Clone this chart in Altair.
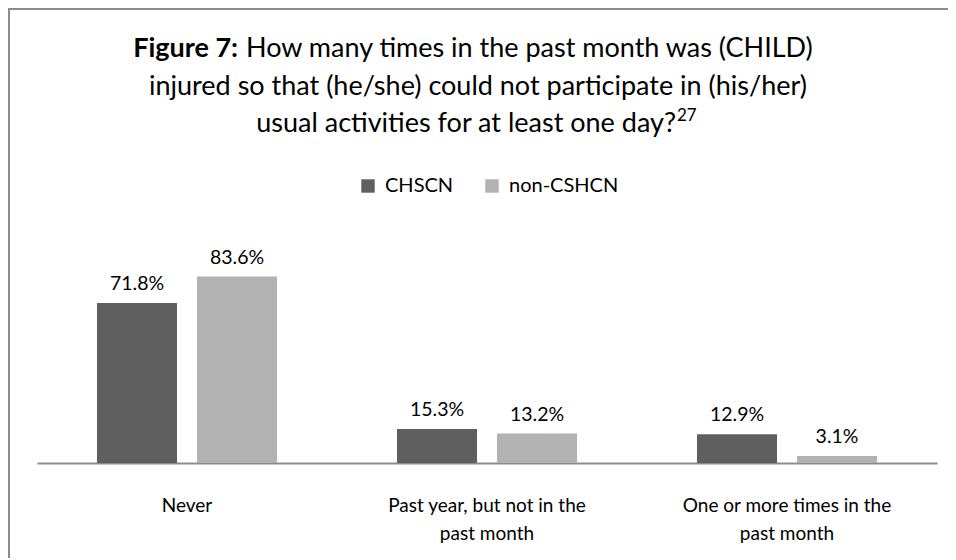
import altair as alt
import pandas as pd

categories = ["Never", "Past year, but not in the past month", "One or more times in the past month"]
series = ["CHSCN", "non-CSHCN"]
chscn = [71.8, 15.3, 12.9]
non_cshcn = [83.6, 13.2, 3.1]
colors = ["#5f5f5f", "#b2b2b2"]

title_bold = "Figure 7:"
title_line1 = "How many times in the past month was (CHILD)"
title_line2 = "injured so that (he/she) could not participate in (his/her)"
title_line3 = "usual activities for at least one day?"
title_sup = "27"

rows = []
for c, a, b in zip(categories, chscn, non_cshcn):
    rows.append({"category": c, "group": series[0], "value": a})
    rows.append({"category": c, "group": series[1], "value": b})
df = pd.DataFrame(rows)

FONT = "Lato"
W, H = 900, 223
TFS = 27
PL = 29
PB = 95

x = alt.X(
    "category:N", sort=categories,
    scale=alt.Scale(paddingInner=0, paddingOuter=0),
    axis=alt.Axis(
        title=None, labelAngle=0, labelFontSize=19, labelColor="#000", labelFont=FONT,
        domainColor="#8c8c8c", domainWidth=2, ticks=False, labelPadding=33,
        labelLineHeight=28, labelLimit=300,
        labelExpr="split(replace(datum.label, 'the past', 'the|past'), '|')",
    ),
)
xo = alt.XOffset("group:N", sort=series, scale=alt.Scale(paddingInner=0.2, paddingOuter=0.6))
y = alt.Y("value:Q", scale=alt.Scale(domain=[0, 100]), axis=None)
color = alt.Color(
    "group:N", sort=series,
    scale=alt.Scale(domain=series, range=colors),
    legend=alt.Legend(
        title=None, orient="none", direction="horizontal",
        legendX=360 - 8 - PL - 2, legendY=-64, symbolType="square", symbolSize=180,
        symbolStrokeWidth=0, labelFontSize=20, labelFont=FONT, labelColor="#000",
        columnPadding=28, padding=0, labelOffset=7,
    ),
)

base = alt.Chart(df)
bars = base.mark_bar().encode(x=x, xOffset=xo, y=y, color=color)
labels = base.transform_calculate(
    label="format(datum.value, '.1f') + '%'"
).mark_text(baseline="bottom", dy=-9, fontSize=19.5, font=FONT, color="#000").encode(
    x=x, xOffset=xo, y=y, text="label:N"
)

def txt(s, xv, yv, **kw):
    return alt.Chart(pd.DataFrame({"t": [s]})).mark_text(
        font=FONT, color="#000", baseline="middle", **kw
    ).encode(text="t:N", x=alt.value(xv), y=alt.value(yv))

OX = 8 + PL  # page x of plot origin
t1a = txt(title_bold, 238 - OX, -191, align="right", fontSize=TFS, fontWeight="bold")
t1b = txt(title_line1, 246 - OX, -191, align="left", fontSize=TFS)
t2 = txt(title_line2, 478 - OX, -153, align="center", fontSize=TFS)
t3 = txt(title_line3, 676 - OX, -116, align="right", fontSize=TFS)
t3s = txt(title_sup, 677 - OX, -124, align="left", fontSize=17)

border_left = alt.Chart(pd.DataFrame({"a": [0]})).mark_rule(color="#8c8c8c", strokeWidth=2).encode(
    x=alt.value(-PL + 1), y=alt.value(-232), y2=alt.value(H + PB)
)
border_top = alt.Chart(pd.DataFrame({"a": [0]})).mark_rule(color="#8c8c8c", strokeWidth=2).encode(
    x=alt.value(-PL), x2=alt.value(W + 20), y=alt.value(-231)
)

chart = alt.layer(
    border_left, border_top, bars, labels, t1a, t1b, t2, t3, t3s
).properties(
    width=W, height=H,
    autosize=alt.AutoSizeParams(type="none"),
    padding={"left": PL, "top": 232, "right": 11, "bottom": PB},
).configure_view(stroke=None)

chart.save("out.html", embed_options={"renderer": "svg", "actions": False})
